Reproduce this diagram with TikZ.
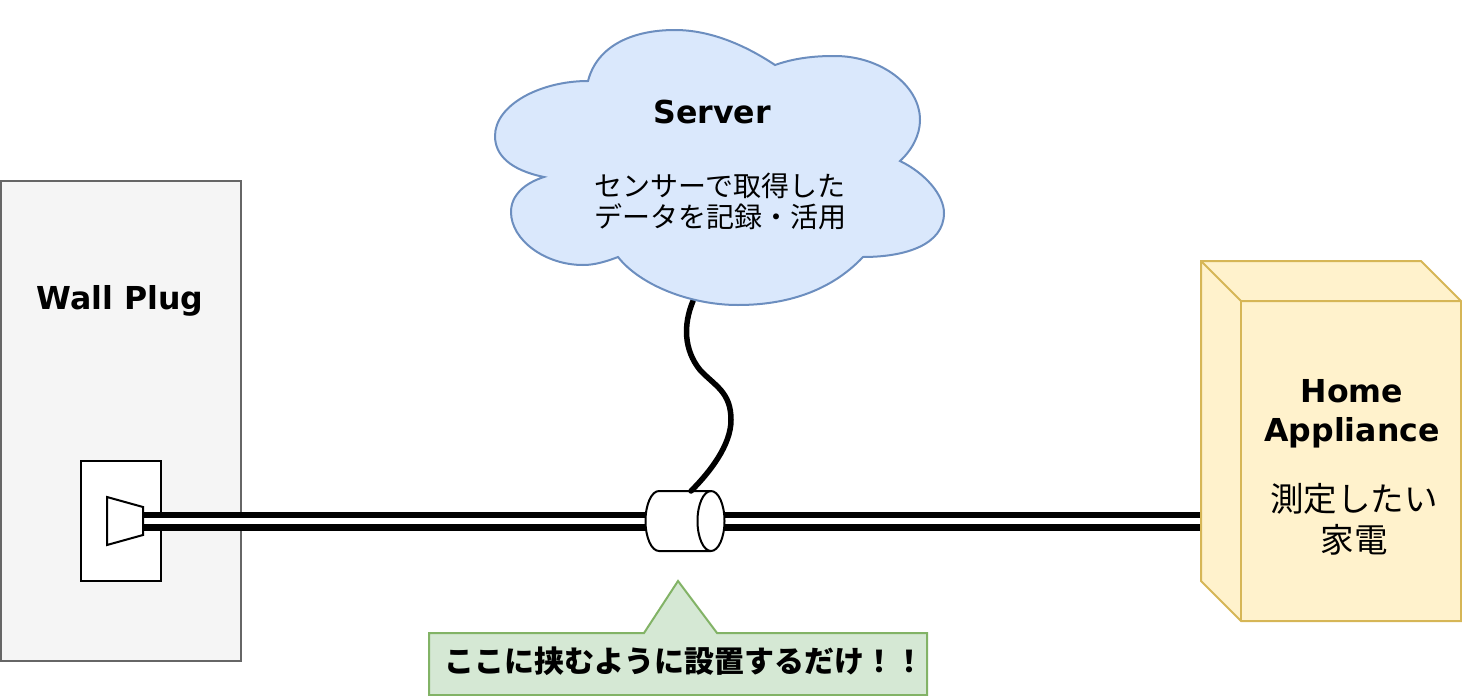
\documentclass[tikz,border=0pt]{standalone}
\usepackage{fontspec}
\setmainfont{Noto Sans CJK JP}
\newfontfamily\latinbold{DejaVu Sans}
\definecolor{wallfill}{HTML}{F5F5F5}
\definecolor{wallline}{HTML}{666666}
\definecolor{cloudfill}{HTML}{DAE8FC}
\definecolor{cloudline}{HTML}{6C8EBF}
\definecolor{boxfill}{HTML}{FFF2CC}
\definecolor{boxline}{HTML}{D6B656}
\definecolor{notefill}{HTML}{D5E8D4}
\definecolor{noteline}{HTML}{82B366}
\newcommand{\px}[2]{\fontsize{#1}{#2}\selectfont}
\tikzset{
  shapeline/.style={line width=2pt,line join=miter},
  wire/.style={line width=6.5pt,double=white,double distance=6pt,line cap=butt},
  cable/.style={line width=5.5pt,line cap=round},
  heading/.style={font=\latinbold\bfseries\px{31.6}{39},align=center,inner sep=0pt},
  body/.style={font=\px{28}{31},align=center,inner sep=0pt},
  bodybig/.style={font=\px{33.5}{41},align=center,inner sep=0pt},
}
\begin{document}
\begin{tikzpicture}[x=1pt,y=-1pt]
\useasboundingbox (0,0) rectangle (1462,696);
% wall
\node[shapeline,draw=wallline,fill=wallfill,minimum width=240pt,minimum height=480pt,inner sep=0pt] (wall) at (121,421) {};
\node[heading] (walltext) at (120,301) {Wall Plug};
\node[shapeline,draw=black,fill=white,minimum width=80pt,minimum height=120pt,inner sep=0pt] (socket) at (121,521) {};
% anchors
\coordinate (plugface) at (143,521);
\coordinate (boxside) at (1201,521);
\coordinate (cloudfoot) at (693,301);
\node[minimum width=79pt,minimum height=60pt,inner sep=0pt] (sensor) at (685.5,521) {};
\coordinate (sensortop) at (691,491);
% wires
\draw[wire] (plugface) -- (sensor.west);
\draw[wire] (sensor.east) -- (boxside);
% sensor body
\draw[shapeline,fill=white] (659,491) -- (711,491)
  .. controls (718.5,491) and (724.5,504.5) .. (724.5,521)
  .. controls (724.5,537.5) and (718.5,551) .. (711,551)
  -- (659,551)
  .. controls (651.5,551) and (645.5,537.5) .. (645.5,521)
  .. controls (645.5,504.5) and (651.5,491) .. (659,491) -- cycle;
\draw[shapeline] (711,491) .. controls (703.5,491) and (697.5,504.5) .. (697.5,521)
  .. controls (697.5,537.5) and (703.5,551) .. (711,551);
% plug
\draw[shapeline,fill=white] (107,497) -- (143,507) -- (143,535) -- (107,545) -- cycle;
% cable
\draw[cable] (cloudfoot) .. controls (683,325) and (684,350) .. (700,370)
  .. controls (715,386) and (731,392) .. (731,420)
  .. controls (731,445) and (710,472) .. (sensortop);
% cloud
\draw[line width=2pt,draw=cloudline,fill=cloudfill]
  (588,81) .. controls (597,46) and (632,30) .. (675,30)
  .. controls (710,30) and (745,45) .. (775,65)
  .. controls (800,56) and (825,56) .. (835,56)
  .. controls (880,56) and (920,85) .. (920,120)
  .. controls (920,135) and (912,150) .. (900,161)
  .. controls (925,173) and (944,195) .. (944,213)
  .. controls (944,245) and (905,257) .. (863,257)
  .. controls (830,292) and (785,305) .. (738,305)
  .. controls (690,305) and (640,285) .. (618,257)
  .. controls (600,264) and (590,265) .. (583,265)
  .. controls (545,265) and (511,240) .. (511,212)
  .. controls (511,195) and (525,183) .. (544,177)
  .. controls (510,170) and (495,155) .. (495,136)
  .. controls (495,105) and (540,81) .. (588,81) -- cycle;
\node[heading] (servertitle) at (712,112) {Server};
\node[body] (servertext) at (720,201) {センサーで取得した\\データを記録・活用};
% appliance
\draw[shapeline,draw=boxline,fill=boxfill] (1201,261) -- (1421,261) -- (1461,301) -- (1461,621) -- (1241,621) -- (1201,581) -- cycle;
\draw[shapeline,draw=boxline] (1201,261) -- (1241,301) -- (1461,301);
\draw[shapeline,draw=boxline] (1241,301) -- (1241,621);
\node[heading] (apptitle) at (1352,414) {Home\\Appliance};
\node[bodybig] (apptext) at (1354,519) {測定したい\\家電};
% note
\draw[shapeline,draw=noteline,fill=notefill] (429,633) -- (644,633) -- (678,581) -- (717,633) -- (927,633) -- (927,695) -- (429,695) -- cycle;
\node[font=\bfseries\px{30}{36},inner sep=0pt] (note) at (684,661) {ここに挟むように設置するだけ！！};
\end{tikzpicture}
\end{document}
